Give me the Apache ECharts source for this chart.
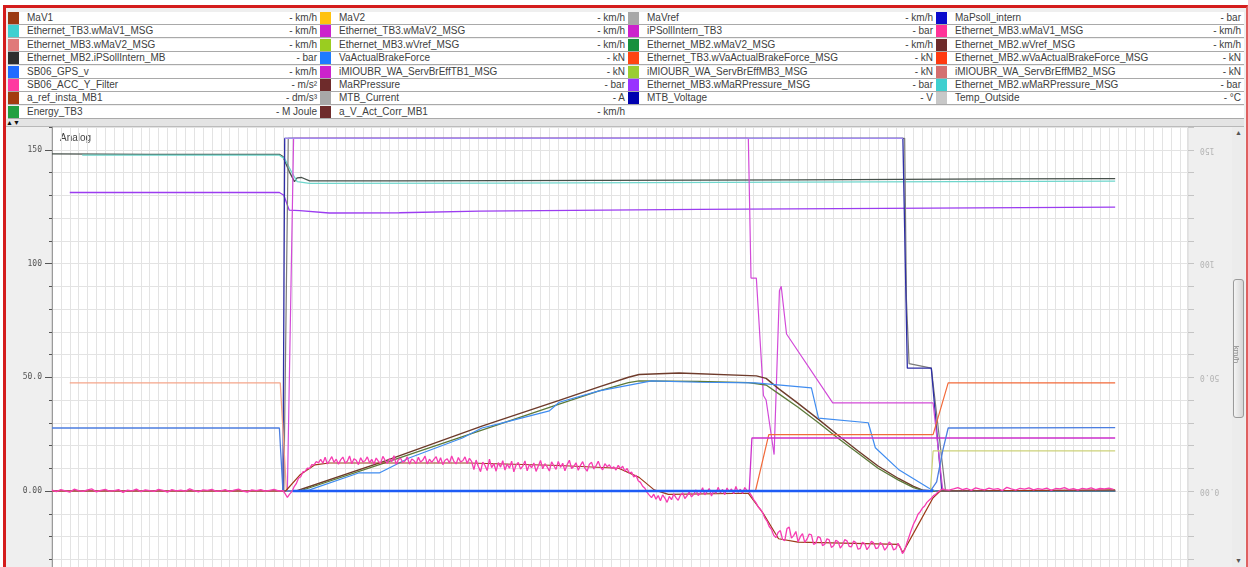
<!DOCTYPE html>
<html>
<head>
<meta charset="utf-8">
<script src="https://cdn.jsdelivr.net/npm/echarts@6/dist/echarts.min.js"></script>
<style>
body{margin:0;width:1248px;height:567px;overflow:hidden;background:#fff;font-family:"Liberation Sans",Arial,sans-serif;}
#frame{position:absolute;left:3px;top:5px;width:1240px;height:600px;border-left:3px solid #d41c1c;border-top:3px solid #d41c1c;border-right:2px solid #e06060;background:#efefef;}
#legend{position:absolute;left:0;top:0;width:1248px;height:126px;}
.cell{position:absolute;height:12px;background:#fff;border-bottom:1px solid #a9a9a9;font-size:10px;line-height:12px;color:#404040;white-space:nowrap;overflow:hidden;}
.sw{position:absolute;left:0;top:0;width:11px;height:12px;}
.nm{position:absolute;left:19px;top:0;}
.un{position:absolute;right:3px;top:0;}
#strip{position:absolute;left:6px;top:119px;width:1238px;height:7px;background:#e4e4e4;border-bottom:1px solid #b8b8b8;font-size:7px;line-height:7px;color:#111;}
#chart{position:absolute;left:0;top:0;width:1248px;height:600px;}
#scroll{position:absolute;left:1232px;top:127px;width:13px;height:440px;background:#ececec;}
#thumb{position:absolute;left:1px;top:152px;width:9px;height:137px;border:1px solid #9a9a9a;border-radius:3px;background:linear-gradient(90deg,#f4f4f4,#d6d6d6);}
</style>
</head>
<body>
<div id="frame"></div>
<div id="legend"></div>
<div id="strip">&#9650;&#9660;</div>
<div id="scroll"><div style="position:absolute;left:3px;top:2px;font-size:7px;color:#555">&#9650;</div><div id="thumb"></div><div style="position:absolute;left:3px;top:430px;font-size:7px;color:#555">&#9660;</div></div>
<div id="chart"></div>
<script>
// legend table
var legendNames = [
  ['MaV1','Ethernet_TB3.wMaV1_MSG','Ethernet_MB3.wMaV2_MSG','Ethernet_MB2.iPSollIntern_MB','SB06_GPS_v','SB06_ACC_Y_Filter','a_ref_insta_MB1','Energy_TB3'],
  ['MaV2','Ethernet_TB3.wMaV2_MSG','Ethernet_MB3.wVref_MSG','VaActualBrakeForce','iMIOUBR_WA_ServBrEffTB1_MSG','MaRPressure','MTB_Current','a_V_Act_Corr_MB1'],
  ['MaVref','iPSollIntern_TB3','Ethernet_MB2.wMaV2_MSG','Ethernet_TB3.wVaActualBrakeForce_MSG','iMIOUBR_WA_ServBrEffMB3_MSG','Ethernet_MB3.wMaRPressure_MSG','MTB_Voltage',''],
  ['MaPsoll_intern','Ethernet_MB3.wMaV1_MSG','Ethernet_MB2.wVref_MSG','Ethernet_MB2.wVaActualBrakeForce_MSG','iMIOUBR_WA_ServBrEffMB2_MSG','Ethernet_MB2.wMaRPressure_MSG','Temp_Outside','']
];
var legendUnits = [
  ['km/h','km/h','km/h','bar','km/h','m/s²','dm/s³','M Joule'],
  ['km/h','km/h','km/h','kN','kN','bar','A','km/h'],
  ['km/h','bar','km/h','kN','kN','bar','V',''],
  ['bar','km/h','km/h','kN','kN','bar','°C','']
];
var legendColors = [
  ['#9b3a12','#3fd0d0','#e07a7a','#2e2e2e','#1f6bff','#ff3aa0','#a33c10','#22a040'],
  ['#ffc20e','#cc22cc','#9acd20','#1e7bff','#cc22cc','#6e2b2b','#a8a8a8','#6e2b2b'],
  ['#a8a8a8','#cc22cc','#17903e','#ff4512','#9acd32','#9933ff','#0000b0',''],
  ['#0a0acc','#ff3399','#6e2b2b','#ff3a10','#d47070','#3fcfcf','#c8c8c8','']
];

// traces: [time s, value]
var vrefDark = [[0,148.2],[11.0,148.0],[25.6,148.0],[26.0,147.0],[26.7,140.5],[27.3,136.0],[27.6,137.6],[28.1,137.8],[29.0,136.3],[39.1,136.3],[61.6,136.5],[84.0,136.8],[106.5,137.2],[119.7,137.3]];
var vrefCyan = [[3.4,147.6],[25.6,147.6],[26.2,146.0],[27.0,140.0],[27.6,136.0],[29.0,135.2],[50.3,135.3],[84.0,135.8],[119.7,136.2]];
var pressPurple = [[2.0,131.2],[25.6,131.2],[26.1,130.0],[26.7,123.5],[27.9,123.2],[31.2,122.2],[39.1,122.3],[48.1,123.0],[72.8,123.8],[119.7,124.8]];
var psollNavy = [[0,0],[26.0,0],[26.2,155],[95.8,155],[96.3,54],[99.0,54],[100.2,0],[119.7,0]];
var psollTop = [[26.2,155],[95.8,155]];
var mavrefGrey = [[0,0],[26.1,0],[26.6,155],[96.0,155],[96.2,84],[96.5,56],[99.0,54],[100.6,0],[119.7,0]];
var ipsollMagenta = [[0,0],[26.5,0],[27.2,155],[78.4,155],[78.7,93.6],[79.3,93.6],[80.1,42],[80.4,40],[81.3,16],[81.9,88],[82.1,90],[82.7,69],[87.9,38.7],[99.2,38.7],[100.3,0],[119.7,0]];
var mav2Step = [[0,0],[78.5,0],[78.8,23.3],[119.7,23.3]];
var brakeOrange = [[0,0],[79.2,0],[80.7,24.8],[99.2,24.8],[100.9,47.5],[119.7,47.5]];
var salmonLeft = [[2.0,47.5],[25.7,47.5],[26.4,0]];
var gpsBlue = [[0,27.7],[25.6,27.7],[26.0,0],[98.9,0],[99.6,4],[100.3,18],[100.9,27.7],[119.7,27.9]];
var speedBrown = [[0,0],[27.5,0],[37.2,12.8],[48.4,28.5],[57.1,39.8],[61.6,45.8],[64.9,50.0],[66.1,51.2],[70.6,51.9],[79.3,50.6],[80.4,49.5],[81.8,45.0],[84.0,38.5],[86.3,31.5],[88.5,24.5],[90.8,17.5],[93.0,11.0],[95.3,5.5],[97.0,2.0],[98.1,0.3],[99.2,0],[119.7,0]];
var speedOlive = [[0,0],[27.9,0],[37.2,12.0],[48.4,26.8],[57.1,38.2],[61.6,44.0],[64.9,47.6],[66.1,48.4],[72.8,48.2],[78.4,47.6],[80.4,46.6],[81.8,42.8],[84.0,36.8],[86.3,30.0],[88.5,23.2],[90.8,16.5],[93.0,10.0],[95.3,4.8],[97.0,1.5],[98.1,0.2],[99.2,0],[119.7,0]];
var speedBlue = [[0,0],[27.1,0],[29.0,0.5],[34.6,8.0],[36.9,8.0],[40.2,14.5],[46.2,23.3],[48.4,27.7],[50.3,29.5],[56.0,35.2],[57.1,39.0],[61.6,44.0],[67.5,48.4],[72.8,47.8],[79.2,47.5],[85.5,45.3],[86.3,32.0],[91.9,30.0],[92.7,19.0],[95.3,9.5],[98.7,1.3],[99.5,0],[119.7,0]];
var effYellow = [[0,0],[98.9,0],[99.2,17.6],[119.7,17.6]];
var accBrown = [[0,0],[26.3,0],[27.9,7],[29.6,11.5],[31.2,12.3],[47.0,12.3],[57.1,11.2],[63.8,10.0],[66.1,6],[67.8,0.5],[69.4,-1.5],[78.4,-1],[80.1,-10],[81.8,-21],[84.0,-22.5],[95.3,-23.5],[95.8,-27],[97.5,-15],[99.2,-3],[100.0,0],[119.7,0.5]];
var zeroBlue = [[27.1,0],[99.2,0]];

// SB06_ACC_Y_Filter: before the start, every 0.5 s from t = 0
var accPinkIdle = [
  0.4,-0.3,0.6,0.1,-0.5,0.8,0.2,-0.2,0.5,0.9,
  -0.4,0.3,0.7,-0.1,0.2,0.6,-0.6,0.4,0.1,0.8,
  -0.3,0.5,0.2,-0.2,0.7,0.3,-0.5,0.6,0.1,0.4,
  -0.1,0.9,0.2,-0.4,0.5,0.3,0.7,-0.2,0.1,0.6,
  -0.3,0.4,0.8,0.0,-0.5,0.5,0.2,0.6,-0.1,0.3,
  0.7,0.1
];
// during the run, every 0.25 s from t = 26
var accPinkRun = [
  0.2,-1.2,-2.8,-1.4,-0.3,1.8,3.2,5.6,6.3,8.4,8.6,10.1,9.9,11.6,11.5,12.9,12.4,
  13.9,12.2,14.8,11.9,13.4,15.1,12.6,14.0,11.8,13.7,
  14.9,12.3,13.1,15.4,12.0,14.2,13.5,11.6,14.6,12.8,
  13.3,15.0,12.4,13.9,11.9,14.5,13.0,12.2,15.2,13.6,
  12.1,14.3,12.9,15.5,11.7,13.8,14.4,12.5,13.2,15.0,
  11.8,14.1,13.4,12.0,14.8,12.7,13.6,15.3,11.9,14.0,
  12.6,13.9,15.1,12.2,14.6,11.6,13.5,14.2,12.3,15.4,
  13.0,11.9,14.7,12.8,13.3,15.0,12.1,14.4,
  12.9,9.4,13.6,10.8,8.5,12.7,11.2,9.0,14.0,10.3,
  12.1,8.7,12.5,10.5,13.3,9.2,11.9,10.0,13.1,8.4,
  11.4,12.6,9.6,10.9,13.2,8.9,11.7,10.2,12.3,8.6,
  11.0,13.4,9.8,12.0,10.6,8.8,12.8,11.1,9.5,13.0,
  10.4,12.2,8.9,11.6,13.5,9.9,10.8,12.4,9.1,11.3,
  12.9,10.1,8.7,11.8,12.6,9.7,11.0,13.1,10.5,9.3,
  12.0,10.7,11.5,9.9,
  10.6,9.2,11.3,9.8,10.9,8.7,9.9,7.8,8.3,6.2,
  6.9,4.5,3.8,2.1,1.2,-0.6,-1.8,-2.9,-1.4,-3.6,
  -2.0,-4.3,-1.7,-3.1,-5.0,-2.4,-3.8,-1.3,-2.9,-4.1,
  -1.9,-0.8,-3.3,-2.1,-0.4,-2.6,-1.5,0.5,-2.0,-0.9,
  1.4,-1.7,-0.3,1.1,-2.2,0.2,-1.0,1.6,-0.8,0.7,
  -1.6,1.3,-0.4,0.9,-1.2,2.0,-0.6,0.8,-1.1,1.5,
  0.2,
  -0.5,-2.0,-3.8,-5.1,-6.9,-8.0,-9.5,-11.8,-13.2,-15.6,
  -16.8,-19.4,-20.5,-18.2,-17.4,-21.3,-21.8,-16.5,-15.9,-20.7,
  -19.6,-17.8,-22.4,-20.1,-18.7,-22.6,-21.2,-18.9,-19.3,-23.5,
  -22.9,-20.0,-20.6,-24.0,-23.4,-21.0,-21.5,-24.8,-24.1,-21.7,
  -22.2,-25.1,-23.8,-21.4,-21.9,-24.3,-24.6,-22.0,-22.7,-25.6,
  -25.2,-22.5,-23.1,-25.8,-24.4,-22.1,-22.8,-25.3,-25.0,-22.6,
  -23.6,-26.0,-24.8,-22.4,-23.3,-25.9,-25.4,-23.0,-24.6,-27.5,
  -26.0,-22.8,-20.0,-17.1,-14.5,-12.6,-10.2,-9.1,-7.5,-6.6,
  -5.0,-4.1,-3.2,-2.0,-1.5,-0.4,0.3,0.9,0.6
];
// after the stop, every 0.5 s from t = 101
var accPinkStop = [
  0.4,0.9,1.5,0.6,1.1,0.3,1.4,0.8,0.5,
  1.3,0.7,1.0,0.2,1.6,0.9,0.4,1.2,0.8,1.4,
  0.5,1.0,0.7,1.3,0.3,1.1,0.9,1.5,0.6,1.0,
  0.4,1.2,0.8,1.4,0.6,1.1,0.9,1.3,0.7
];
var yLabels = {150:'150',100:'100',50:'50.0',0:'0.00'};

// build legend table
var colLeft = [8, 320, 628, 936];
var colWidth = [312, 308, 308, 308];
var box = document.getElementById('legend');
for (var c = 0; c < 4; c++) {
  for (var r = 0; r < 8; r++) {
    var cell = document.createElement('div');
    cell.className = 'cell';
    cell.style.left = colLeft[c] + 'px';
    cell.style.top = Math.round(12 + r * 13.4) + 'px';
    cell.style.width = colWidth[c] + 'px';
    if (legendColors[c][r]) {
      cell.innerHTML = '<div class="sw" style="background:' + legendColors[c][r] + '"></div>' +
        '<span class="nm">' + legendNames[c][r] + '</span>' +
        '<span class="un">- ' + legendUnits[c][r] + '</span>';
    }
    box.appendChild(cell);
  }
}

var accData = accPinkIdle.map(function (v, i) { return [i * 0.5, v]; })
  .concat(accPinkRun.map(function (v, i) { return [26 + i * 0.25, v]; }))
  .concat(accPinkStop.map(function (v, i) { return [101 + i * 0.5, v]; }));

var chart = echarts.init(document.getElementById('chart'));

function line(name, data, color, width) {
  return {
    name: name, type: 'line', data: data, symbol: 'none',
    lineStyle: { color: color, width: width || 1.2 },
    animation: false
  };
}
var labelFmt = function (v) { return yLabels[v] !== undefined ? yLabels[v] : ''; };

var option = {
  animation: false,
  graphic: [{ type: 'text', left: 60, top: 133, style: { text: 'Analog', fontSize: 10, fill: '#444', fontFamily: 'Liberation Sans' } }],
  grid: { left: 52, top: 127, width: 1138, height: 455, show: true, backgroundColor: '#fff', borderColor: '#c0c0c0', borderWidth: 1 },
  xAxis: {
    type: 'value', min: 0, max: 127.9, interval: 1,
    axisLine: { show: false }, axisTick: { show: false }, axisLabel: { show: false },
    splitLine: { lineStyle: { color: '#e3e3e3', width: 1 } }
  },
  yAxis: [
    {
      type: 'value', min: -40, max: 160, interval: 10, position: 'left',
      axisLine: { show: true, lineStyle: { color: '#9a9a9a' } },
      axisTick: { show: true, length: 3, lineStyle: { color: '#555' } },
      axisLabel: { formatter: labelFmt, fontFamily: 'DejaVu Sans Mono', fontSize: 8, color: '#555', margin: 10 },
      splitLine: { lineStyle: { color: '#e3e3e3' } }
    },
    {
      type: 'value', min: -40, max: 160, interval: 10, position: 'left',
      axisLine: { show: false },
      axisTick: { show: true, length: 7, customValues: [0, 50, 100, 150], lineStyle: { color: '#555' } },
      axisLabel: { show: false }, splitLine: { show: false }
    },
    {
      type: 'value', min: -40, max: 160, interval: 10, position: 'right',
      name: 'km/h', nameLocation: 'middle', nameGap: 44, nameRotate: -90,
      nameTextStyle: { color: '#888', fontSize: 8, fontFamily: 'Liberation Sans' },
      axisLine: { show: false },
      axisTick: { show: true, length: 6, lineStyle: { color: '#c4c4c4' } },
      axisLabel: { formatter: labelFmt, rotate: 180, fontFamily: 'DejaVu Sans Mono', fontSize: 8, color: '#b4b4b4', margin: 12 },
      splitLine: { show: false }
    }
  ],
  series: [
    line('Ethernet_MB2.wMaV2_MSG', vrefDark, '#46504a', 1.3),
    line('Ethernet_TB3.wMaV1_MSG', vrefCyan, '#6fd6cc', 1.3),
    line('Ethernet_MB3.wMaRPressure_MSG', pressPurple, '#9b3cf0', 1.3),
    line('MaVref', mavrefGrey, '#7a7a7a', 1.2),
    line('MaPsoll_intern', psollNavy, '#2e2ea6', 1.3),
    line('iPSollIntern_TB3', ipsollMagenta, '#d24ad8', 1.2),
    line('MaPsoll_intern top', psollTop, '#a48cf0', 1.4),
    line('MaV1', speedBrown, '#6e3b2b', 1.4),
    line('Ethernet_MB2.wVref_MSG', speedOlive, '#5d7a3a', 1.3),
    line('VaActualBrakeForce', speedBlue, '#3f8cf0', 1.2),
    line('Ethernet_MB3.wMaV2_MSG', salmonLeft, '#f5a58a', 1.3),
    line('Ethernet_TB3.wVaActualBrakeForce_MSG', brakeOrange, '#f26a3a', 1.2),
    line('Ethernet_TB3.wMaV2_MSG', mav2Step, '#cc2fcc', 1.3),
    line('iMIOUBR_WA_ServBrEffMB3_MSG', effYellow, '#cdd27a', 1.2),
    line('SB06_GPS_v', gpsBlue, '#4c7ee0', 1.3),
    line('a_ref_insta_MB1', accBrown, '#9c3a18', 1.2),
    line('SB06_ACC_Y_Filter', accData, '#f73cb2', 1.3),
    line('zero', zeroBlue, '#1d5cf5', 2.6)
  ]
};
chart.setOption(option);
</script>
</body>
</html>
